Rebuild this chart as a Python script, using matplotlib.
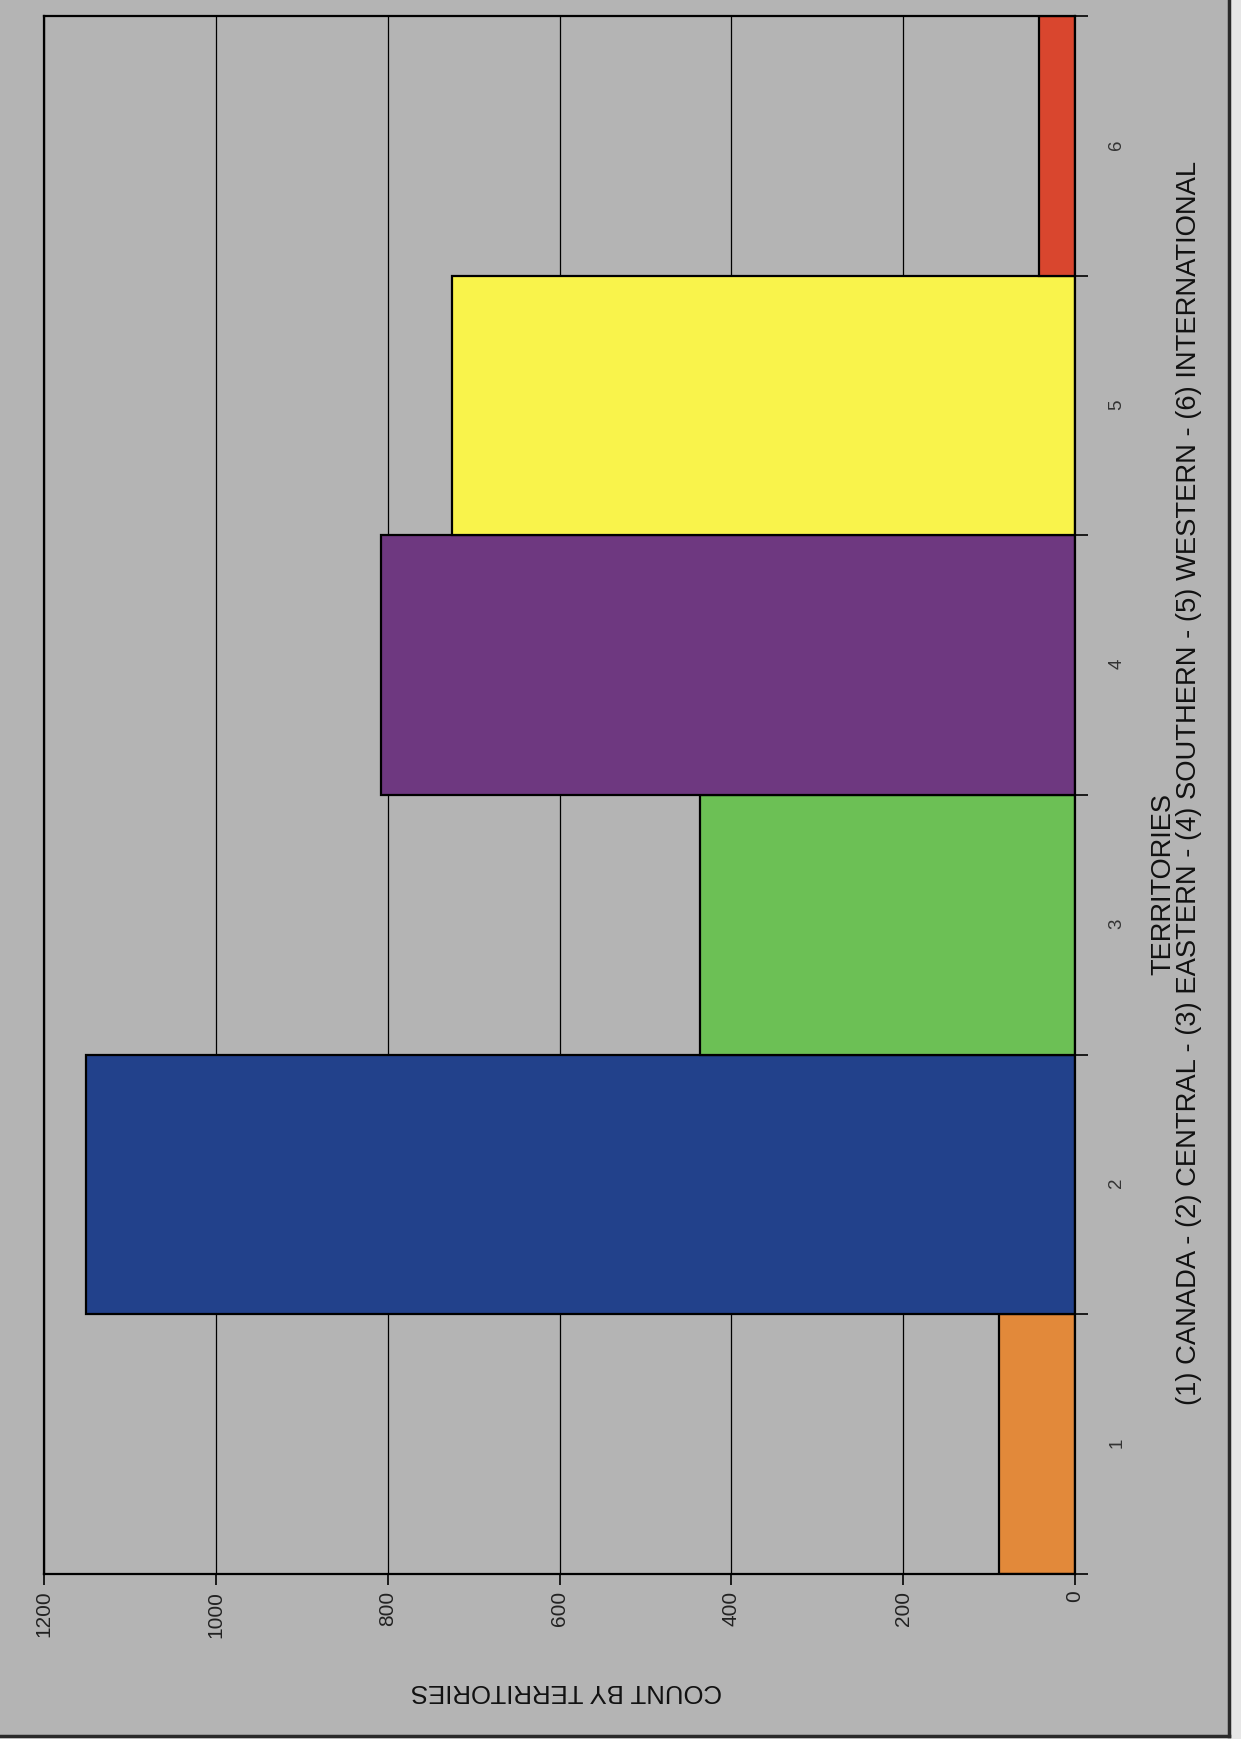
import matplotlib
matplotlib.use("Agg")
import matplotlib.pyplot as plt
from matplotlib.patches import Rectangle
from matplotlib.lines import Line2D

plt.rcParams['font.family'] = ['Liberation Sans', 'DejaVu Sans']

# ---- data ----
categories = ["1", "2", "3", "4", "5", "6"]
counts = [88, 1151, 437, 808, 725, 42]
colors = ["#E2893A", "#22418B", "#6CC055", "#6E3880", "#F9F34B", "#D9462E"]
value_ticks = [0, 200, 400, 600, 800, 1000, 1200]
cat_title = "TERRITORIES"
cat_subtitle = "(1) CANADA - (2) CENTRAL - (3) EASTERN - (4) SOUTHERN - (5) WESTERN - (6) INTERNATIONAL"
value_title = "COUNT BY TERRITORIES"

W, H = 1241, 1739
fig = plt.figure(figsize=(W / 100, H / 100), dpi=100)
fig.patch.set_facecolor("#E6E6E6")
bg = "#B4B4B4"
fig.add_artist(Rectangle((0, 1 - 1736 / H), 1229 / W, 1736 / H, transform=fig.transFigure,
                         facecolor=bg, edgecolor="none", zorder=0))
fig.add_artist(Line2D([1229 / W, 1229 / W], [1 - 1736 / H, 1], transform=fig.transFigure,
                      color="#2A2A2A", lw=2.5))
fig.add_artist(Line2D([0, 1229 / W], [1 - 1736 / H, 1 - 1736 / H], transform=fig.transFigure,
                      color="#2A2A2A", lw=2.5))

left, right = 44 / W, 1075 / W
top, bottom = 1 - 16 / H, 1 - 1574 / H
ax = fig.add_axes([left, bottom, right - left, top - bottom])
ax.set_facecolor(bg)

pos = list(range(1, len(categories) + 1))
ax.barh(pos, counts, height=1.0, color=colors, edgecolor="black", linewidth=1.6, zorder=3)

ax.set_xlim(1200, 0)
ax.set_ylim(0.5, 6.5)
ax.set_xticks(value_ticks)
ax.set_xticklabels([str(v) for v in value_ticks], rotation=90, fontsize=15, color="#222222")
ax.xaxis.grid(True, color="black", linewidth=0.9, zorder=1)
ax.tick_params(axis="x", direction="out", length=8, width=1.2, pad=4, color="black")

ax.yaxis.tick_right()
ax.set_yticks(pos)
ax.set_yticklabels(categories, rotation=90, fontsize=13.5, color="#333333")
ax.set_yticks([p + 0.5 for p in pos[:-1]] + [0.5, 6.5], minor=True)
ax.tick_params(axis="y", which="major", length=0, pad=24)
ax.tick_params(axis="y", which="minor", direction="out", length=9, width=1.2, color="black")
ax.set_axisbelow(True)

for s in ax.spines.values():
    s.set_color("black")
    s.set_linewidth(1.6)
    s.set_zorder(4)

fig.text(1163 / W, 1 - 884 / H, cat_title, rotation=90, ha="center", va="center",
         fontsize=19.5, color="#111111")
fig.text(1189 / W, 1 - 783 / H, cat_subtitle, rotation=90, ha="center", va="center",
         fontsize=19.7, color="#111111")
fig.text(567 / W, 1 - 1691 / H, value_title, rotation=180, ha="center", va="center",
         fontsize=18.5, color="#111111")

fig.savefig("out.png", dpi=100, facecolor=fig.get_facecolor())
